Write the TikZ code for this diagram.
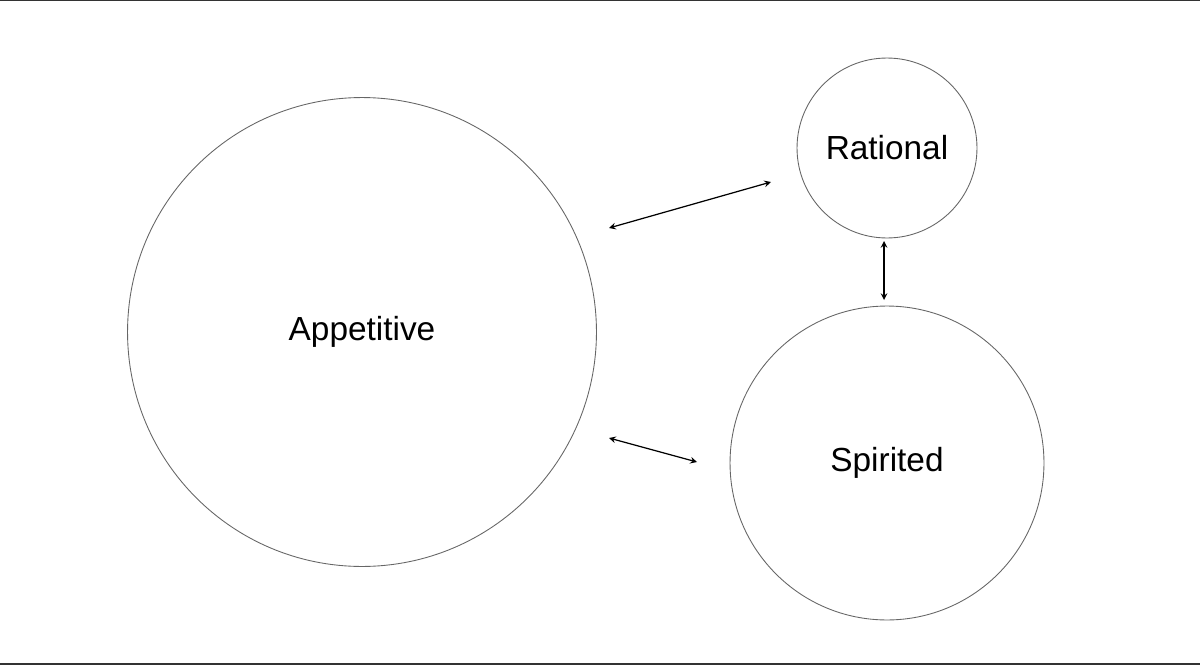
\documentclass[tikz,border=0pt]{standalone}
\usepackage{fontspec}
\setmainfont{Liberation Sans}
\begin{document}
\begin{tikzpicture}[x=0.02cm,y=-0.02cm]
\tikzstyle{alma}=[circle, draw=black!60, line width=0.5pt, inner sep=0, font=\fontsize{19}{22}\selectfont]
\tikzstyle{seta}=[<->, >=stealth, line width=0.7pt]
\useasboundingbox (0,0) rectangle (1200,666);
\draw[black!80, line width=1pt](0,0.5)--(1200,0.5);
\draw[black!80, line width=1.5pt](0,664)--(1200,664);
\node[alma, minimum size=9.38cm] (apetite) at(362,332){Appetitive};
\node[alma, minimum size=3.6cm] (razao) at(887,148){Rational};
\node[alma, minimum size=6.28cm] (animo) at(887,463){Spirited};
\coordinate (a1) at(609,228);
\coordinate (r1) at(771,182);
\coordinate (r2) at(884,241);
\coordinate (s1) at(884,300);
\coordinate (a2) at(609,438);
\coordinate (s2) at(697,462);
\draw[seta](a1)--(r1);
\draw[seta](r2)--(s1);
\draw[seta](a2)--(s2);
\end{tikzpicture}
\end{document}
